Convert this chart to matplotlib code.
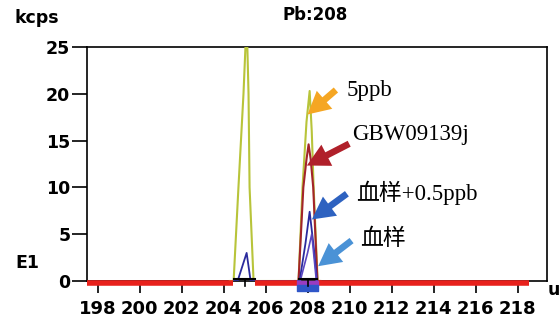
import matplotlib.pyplot as plt
from matplotlib.patches import FancyArrowPatch

# traces (mass u, kcps)
x_5ppb = [204.3, 204.48, 204.71, 204.95, 205.1, 205.19, 205.24, 205.43, 205.6,
          207.4, 207.57, 207.76, 207.95, 208.1, 208.2, 208.29, 208.48, 208.6]
y_5ppb = [0, 0, 10, 20, 28, 20, 10, 0, 0,
          0, 0, 10, 17, 20.3, 16, 10, 0, 0]

x_gbw = [207.4, 207.57, 207.8, 207.95, 208.05, 208.15, 208.27, 208.47, 208.6]
y_gbw = [0, 0, 10, 13, 14.6, 13, 10, 0, 0]

x_spike = [204.5, 204.67, 205.1, 205.29, 205.4,
           207.5, 207.62, 207.9, 208.1, 208.3, 208.45, 208.55]
y_spike = [0, 0, 3.0, 0, 0,
           0, 0, 4.0, 7.4, 3.5, 0, 0]

x_blood = [207.5, 207.65, 208.0, 208.2, 208.42, 208.55]
y_blood = [0, 0, 3.0, 5.0, 0, 0]

xticks = list(range(198, 220, 2))
yticks = [0, 5, 10, 15, 20, 25]

labels = ['5ppb', 'GBW09139j', '血样+0.5ppb', '血样']
label_xy = [(209.85, 20.4), (210.1, 15.6), (210.3, 9.4), (210.5, 4.4)]
arrow_tail = [(209.45, 20.6), (210.1, 14.8), (209.98, 9.5), (210.2, 4.5)]
arrow_tip = [(207.9, 17.6), (207.85, 12.2), (208.1, 6.4), (208.4, 1.4)]
arrow_col = ['#f5a623', '#b0202a', '#2e62c0', '#4a92d6']

fig = plt.figure(figsize=(5.59, 3.2), dpi=100)
ax = fig.add_axes([87/559, 1-281/320, (547-87)/559, (281-47)/320])

ax.plot(x_5ppb, y_5ppb, color='#b8c43a', lw=1.5, zorder=3)
ax.plot(x_gbw, y_gbw, color='#a3242a', lw=1.5, zorder=3)
ax.plot(x_spike, y_spike, color='#2a2a9c', lw=1.3, zorder=4)
ax.plot(x_blood, y_blood, color='#5a46c0', lw=1.2, zorder=4)

# red baseline and integration markers
red = '#e8211c'
for a, b in [(197.5, 204.45), (205.48, 207.48), (208.48, 218.55)]:
    ax.plot([a, b], [-0.23, -0.23], color=red, lw=4, solid_capstyle='butt',
            clip_on=False, zorder=6)
ax.fill_between([207.48, 208.48], -0.45, 0, color='#9a3cc0', clip_on=False, zorder=6)
ax.fill_between([207.48, 208.48], -1.07, -0.45, color='#2f56c8', clip_on=False, zorder=6)
for a, b, m in [(204.48, 205.5, 205.0), (207.6, 208.45, 208.0)]:
    ax.plot([a, b], [0.2, 0.2], color='black', lw=1.5, clip_on=False, zorder=7)
    ax.plot([m, m], [0.2, -0.5], color='black', lw=1.2, clip_on=False, zorder=7)

ax.set_xlim(197.5, 219.4)
ax.set_ylim(0, 25)
ax.set_xticks(xticks)
ax.set_yticks(yticks)
ax.tick_params(axis='y', length=11, width=1.2, pad=1, labelsize=12.5)
ax.tick_params(axis='x', length=8.5, width=1.2, pad=5, labelsize=13)
for t in ax.get_xticklabels() + ax.get_yticklabels():
    t.set_fontweight('bold')
for s in ax.spines.values():
    s.set_linewidth(1.2)

cjk = ['Liberation Serif', 'Noto Sans CJK SC']
for lab, pos, tail, tip, c in zip(labels, label_xy, arrow_tail, arrow_tip, arrow_col):
    ax.text(pos[0], pos[1], lab, family=cjk, fontsize=16.5, va='center', ha='left')
    ar = FancyArrowPatch(tail, tip, arrowstyle='simple,head_width=0.9,head_length=0.85,tail_width=0.25',
                         mutation_scale=19, color=c, lw=0, zorder=8)
    ax.add_patch(ar)

fig.text(15/559, 1-18/320, 'kcps', fontsize=12.5, fontweight='bold', va='center')
fig.text(283/559, 1-15/320, 'Pb:208', fontsize=12, fontweight='bold', va='center')
fig.text(15/559, 1-263/320, 'E1', fontsize=12.5, fontweight='bold', va='center')
fig.text(548/559, 1-290/320, 'u', fontsize=12.5, fontweight='bold', va='center')

fig.savefig('out.png', dpi=100)
